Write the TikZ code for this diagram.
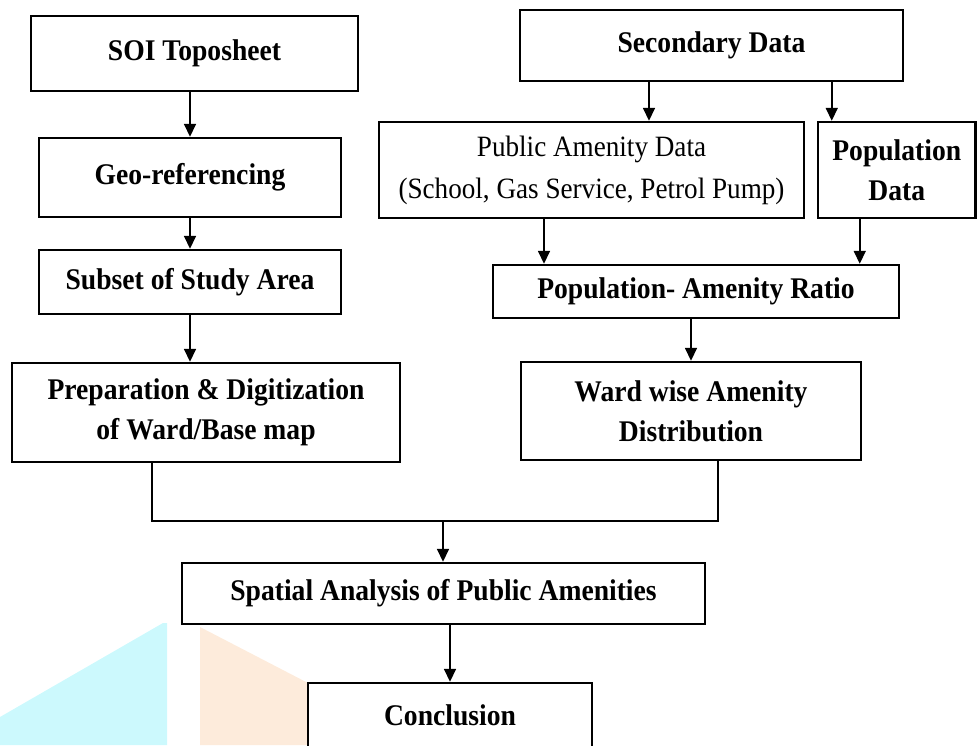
\documentclass[tikz,border=0pt]{standalone}
\usepackage{fontspec}
\setmainfont{Liberation Serif}[FakeStretch=0.92]
\usetikzlibrary{arrows.meta}
\tikzset{
  box/.style={draw=black, line width=2.4pt, inner sep=0pt, align=center,
    font=\fontsize{30}{40}\selectfont\bfseries},
  plainbox/.style={box, font=\fontsize{29.5}{42}\selectfont},
  arr/.style={line width=1.6pt, -{Triangle[width=12pt,length=13pt]}},
  link/.style={line width=1.6pt}
}
\begin{document}
\begin{tikzpicture}[x=1pt,y=-1pt]
\useasboundingbox (0,0) rectangle (977,745);
% faint background watermark shapes
\fill[fill={rgb,255:red,204;green,249;blue,253}] (0,717) -- (163,623) -- (167,623) -- (167,745) -- (0,745) -- cycle;
\fill[fill={rgb,255:red,253;green,235;blue,219}] (200,627) -- (308,683) -- (308,745) -- (200,745) -- cycle;
% left column
\node[box, minimum width=327pt, minimum height=75pt] (soi) at (194.5,53.5) {SOI Toposheet};
\node[box, minimum width=302pt, minimum height=79pt] (geo) at (190,177.5) {Geo-referencing};
\node[box, minimum width=302pt, minimum height=64pt] (subset) at (190,282) {Subset of Study Area};
\node[box, minimum width=388pt, minimum height=99pt] (prep) at (206,412.5) {Preparation \& Digitization\\of Ward/Base map};
% right column
\node[box, minimum width=383pt, minimum height=71pt] (sec) at (711.5,45.5) {Secondary Data};
\node[plainbox, minimum width=425pt, minimum height=96pt] (public) at (591.5,170) {Public Amenity Data\\(School, Gas Service, Petrol Pump)};
\node[box, minimum width=157.5pt, minimum height=96pt] (pop) at (896.75,170) {Population\\Data};
\node[box, minimum width=406pt, minimum height=53pt] (ratio) at (696,291.5) {Population- Amenity Ratio};
\node[box, minimum width=340pt, minimum height=98pt] (ward) at (691,411) {Ward wise Amenity\\Distribution};
% bottom
\node[box, minimum width=523pt, minimum height=61pt] (spatial) at (443.5,593.5) {Spatial Analysis of Public Amenities};
\node[box, minimum width=284pt, minimum height=64pt, text depth=0pt] (concl) at (450,715) {Conclusion};
\coordinate (j) at (443,521);
% connectors
\draw[arr] (soi.south -| geo.north) -- (geo.north);
\draw[arr] (geo.south) -- (subset.north);
\draw[arr] (subset.south) -- (subset.south |- prep.north);
\draw[arr] ([xshift=57.5pt]public.north |- sec.south) -- ([xshift=57.5pt]public.north);
\draw[arr] ([xshift=-65pt]pop.north |- sec.south) -- ([xshift=-65pt]pop.north);
\draw[arr] ([xshift=-47.5pt]public.south) -- ([xshift=-47.5pt]public.south |- ratio.north);
\draw[arr] ([xshift=-37pt]pop.south) -- ([xshift=-37pt]pop.south |- ratio.north);
\draw[arr] (ratio.south -| ward.north) -- (ward.north);
\draw[link] ([xshift=-54pt]prep.south) |- (j) -| ([xshift=27pt]ward.south);
\draw[arr] (j) -- (j |- spatial.north);
\draw[arr] (spatial.south -| concl.north) -- (concl.north);
\end{tikzpicture}
\end{document}
